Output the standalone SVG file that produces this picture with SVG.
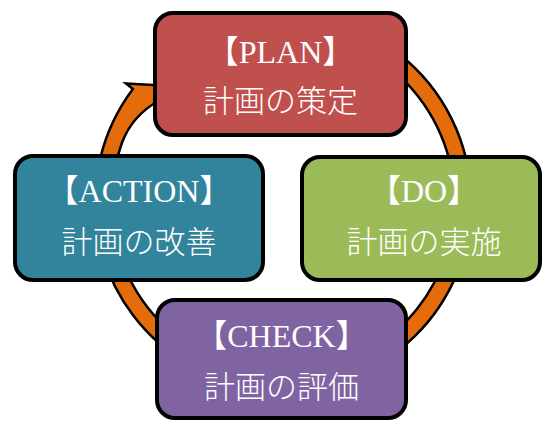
<svg xmlns="http://www.w3.org/2000/svg" width="543" height="423" viewBox="0 0 543 423">
<style>
.box{stroke:#000;stroke-width:4}
.t1{font-family:"Liberation Serif","Noto Sans CJK JP",serif;font-size:32px;fill:#fff;text-anchor:middle}
.t2{font-family:"Noto Sans CJK JP",sans-serif;font-size:31px;fill:#fff;text-anchor:middle;font-weight:300}
</style>
<rect width="543" height="423" fill="#fff"/>
<g id="connectors">
<path d="M331.7,20.4 A188,188 0 1 1 132.9,88.9 L126,83.5 L172,86 L160,100 Q132.1,115.1 121.8,143.3 A171.5,171.5 0 1 0 327.4,36.3 Z" fill="#E46C0A" stroke="#000" stroke-width="2.5" stroke-linejoin="miter"/>
</g>
<g id="plan">
<rect class="box" x="155" y="13" width="251" height="122" rx="18" fill="#C0504D"/>
<text class="t1" x="280.5" y="63">【PLAN】</text>
<text class="t2" x="280.5" y="112">計画の策定</text>
</g>
<g id="action">
<rect class="box" x="15" y="156" width="248" height="124" rx="18" fill="#31849B"/>
<text class="t1" x="139" y="202">【ACTION】</text>
<text class="t2" x="139" y="253">計画の改善</text>
</g>
<g id="do">
<rect class="box" x="302" y="157" width="238" height="123" rx="18" fill="#9BBB59"/>
<text class="t1" x="424" y="202">【DO】</text>
<text class="t2" x="424" y="253">計画の実施</text>
</g>
<g id="check">
<rect class="box" x="157" y="300" width="249" height="118" rx="18" fill="#8064A2"/>
<text class="t1" x="281.5" y="347">【CHECK】</text>
<text class="t2" x="281.5" y="398">計画の評価</text>
</g>
</svg>
